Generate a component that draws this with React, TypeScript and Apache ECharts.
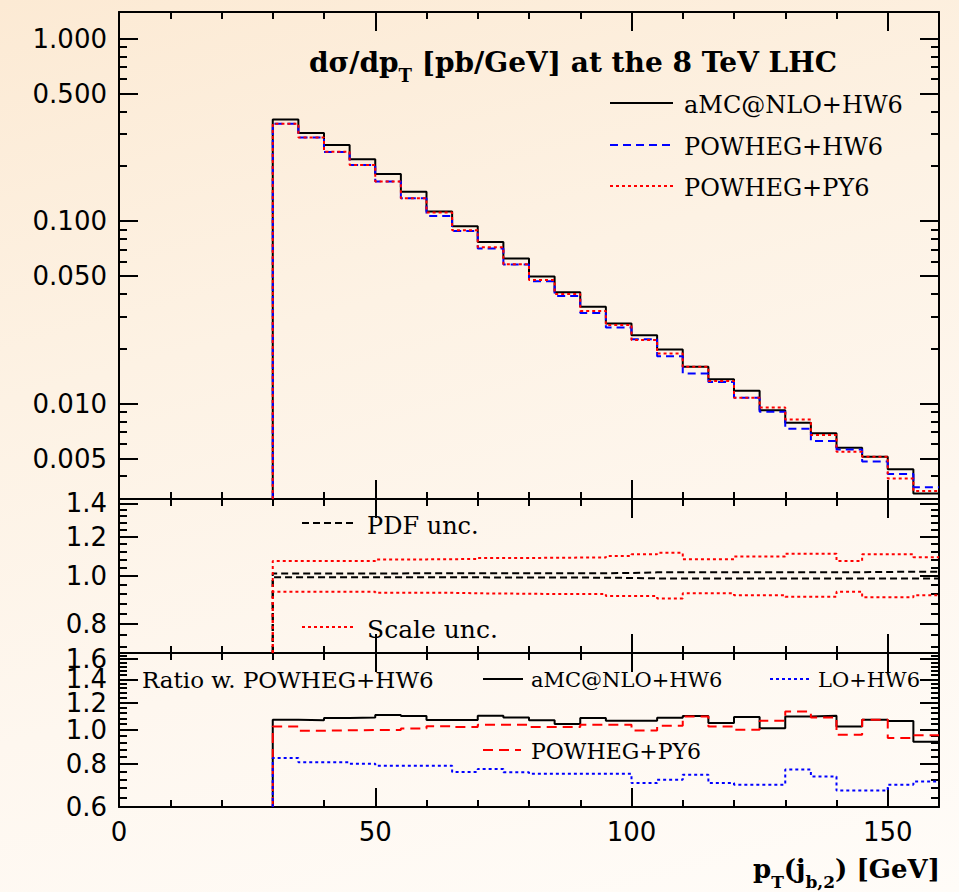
import React, { useEffect, useRef } from "react";
import * as echarts from "echarts";

// ---- data ----
const binEdges = [30, 35, 40, 45, 50, 55, 60, 65, 70, 75, 80, 85, 90, 95, 100, 105, 110, 115, 120, 125, 130, 135, 140, 145, 150, 155, 160];

const aMCNLO_HW6 = [0.361, 0.304, 0.261, 0.218, 0.181, 0.145, 0.113, 0.0938, 0.0769, 0.0624, 0.0497, 0.0407, 0.0339, 0.0275, 0.0237, 0.0198, 0.0159, 0.0136, 0.01175, 0.0092, 0.00785, 0.00687, 0.00573, 0.00512, 0.00436, 0.00322];
const POWHEG_HW6 = [0.342, 0.287, 0.239, 0.203, 0.165, 0.1334, 0.1068, 0.0884, 0.0708, 0.0579, 0.0469, 0.0389, 0.0314, 0.0261, 0.0225, 0.0182, 0.01463, 0.01312, 0.01076, 0.00902, 0.00728, 0.00623, 0.00561, 0.00482, 0.00411, 0.00348];
const POWHEG_PY6 = [0.342, 0.287, 0.24, 0.203, 0.165, 0.1335, 0.1115, 0.0892, 0.0719, 0.058, 0.0475, 0.0399, 0.0322, 0.027, 0.0223, 0.0188, 0.0159, 0.0133, 0.01076, 0.00953, 0.00819, 0.00672, 0.00545, 0.00512, 0.00389, 0.00332];

const pdfUp = [1.012, 1.012, 1.012, 1.012, 1.012, 1.013, 1.013, 1.013, 1.013, 1.013, 1.013, 1.013, 1.013, 1.014, 1.017, 1.017, 1.017, 1.017, 1.017, 1.017, 1.018, 1.018, 1.018, 1.019, 1.02, 1.02];
const pdfDn = [0.994, 0.994, 0.994, 0.994, 0.994, 0.994, 0.994, 0.994, 0.993, 0.993, 0.993, 0.993, 0.992, 0.991, 0.989, 0.989, 0.988, 0.988, 0.988, 0.988, 0.988, 0.988, 0.988, 0.988, 0.989, 0.989];
const scaleUp = [1.072, 1.072, 1.072, 1.072, 1.08, 1.08, 1.081, 1.082, 1.087, 1.087, 1.088, 1.089, 1.09, 1.097, 1.106, 1.114, 1.081, 1.081, 1.094, 1.094, 1.108, 1.108, 1.072, 1.106, 1.106, 1.091];
const scaleDn = [0.93, 0.93, 0.93, 0.93, 0.925, 0.925, 0.925, 0.923, 0.922, 0.921, 0.92, 0.92, 0.92, 0.911, 0.911, 0.9015, 0.923, 0.923, 0.915, 0.915, 0.908, 0.908, 0.93, 0.906, 0.906, 0.915];

const ratioAMC = [1.071, 1.066, 1.083, 1.087, 1.105, 1.097, 1.069, 1.069, 1.0995, 1.087, 1.066, 1.041, 1.083, 1.064, 1.064, 1.085, 1.097, 1.047, 1.09, 1.011, 1.094, 1.099, 1.024, 1.071, 1.062, 0.925];
const ratioPY6 = [1.024, 0.995, 0.998, 1.0, 1.0, 1.01, 1.025, 1.02, 1.036, 1.036, 1.02, 1.02, 1.036, 1.036, 0.997, 1.029, 1.094, 1.024, 1.002, 1.064, 1.131, 1.087, 0.969, 1.071, 0.948, 0.965];
const ratioLO = [0.831, 0.807, 0.807, 0.8, 0.789, 0.789, 0.789, 0.757, 0.772, 0.755, 0.748, 0.748, 0.748, 0.748, 0.703, 0.719, 0.743, 0.703, 0.696, 0.696, 0.769, 0.735, 0.669, 0.669, 0.696, 0.711];

const xMajorTicks = [0, 50, 100, 150];
const xMinorTicks = [10, 20, 30, 40, 60, 70, 80, 90, 110, 120, 130, 140];

const topRange = [0.003, 1.4];
const topMajor = [0.005, 0.01, 0.05, 0.1, 0.5, 1.0];
const topMinor = [0.004, 0.006, 0.007, 0.008, 0.009, 0.02, 0.03, 0.04, 0.06, 0.07, 0.08, 0.09, 0.2, 0.3, 0.4, 0.6, 0.7, 0.8, 0.9];

const midRange = [0.7, 1 / 0.7];
const midMajor = [0.8, 1.0, 1.2, 1.4];
const midMinor = [0.72, 0.76, 0.84, 0.88, 0.92, 0.96, 1.04, 1.08, 1.12, 1.16, 1.24, 1.28, 1.32, 1.36];

const botRange = [0.6, 1 / 0.6];
const botMajor = [0.6, 0.8, 1.0, 1.2, 1.4, 1.6];
const botMinor = [0.64, 0.68, 0.72, 0.76, 0.84, 0.88, 0.92, 0.96, 1.04, 1.08, 1.12, 1.16, 1.24, 1.28, 1.32, 1.36, 1.44, 1.48, 1.52, 1.56, 1.64];

// ---- helpers ----
const L = (v: number) => Math.log10(v);

function stepPoints(values: number[], floor: number) {
  const pts: number[][] = [[binEdges[0], L(floor)]];
  values.forEach((v, i) => {
    pts.push([binEdges[i], L(v)], [binEdges[i + 1], L(v)]);
  });
  return pts;
}

const TICK_FONT = "DejaVu Sans";
const SERIF = "DejaVu Serif";

const panels = [
  { top: 12, height: 487, range: topRange, major: topMajor, minor: topMinor, digits: 3, xLabels: false },
  { top: 499, height: 154, range: midRange, major: midMajor, minor: midMinor, digits: 1, xLabels: false },
  { top: 653, height: 154, range: botRange, major: botMajor, minor: botMinor, digits: 1, xLabels: true },
];

function buildOption() {
  const grid: any[] = [];
  const xAxis: any[] = [];
  const yAxis: any[] = [];
  panels.forEach((p, gi) => {
    grid.push({ left: 119, top: p.top, width: 820, height: p.height });
    (["bottom", "top"] as const).forEach((pos) => {
      [true, false].forEach((isMajor) => {
        xAxis.push({
          type: "value",
          gridIndex: gi,
          position: pos,
          min: 0,
          max: 160,
          axisLine: { show: isMajor, onZero: false, lineStyle: { color: "#000", width: 2 } },
          axisTick: {
            show: true,
            inside: true,
            length: isMajor ? 19 : 7,
            lineStyle: { color: "#000", width: 2 },
            customValues: isMajor ? xMajorTicks : xMinorTicks,
          },
          axisLabel:
            p.xLabels && pos === "bottom" && isMajor
              ? {
                  show: true,
                  customValues: xMajorTicks,
                  fontSize: 26,
                  fontFamily: TICK_FONT,
                  color: "#000",
                  margin: 12,
                  showMinLabel: true,
                  showMaxLabel: true,
                }
              : { show: false },
          splitLine: { show: false },
        });
      });
    });
    (["left", "right"] as const).forEach((pos) => {
      [true, false].forEach((isMajor) => {
        // alternate labels between two overlaid axes so that close neighbours are never auto-hidden
        const labelVals = p.major.filter((_, i) => (i % 2 === 0) === isMajor);
        yAxis.push({
          type: "value",
          gridIndex: gi,
          position: pos,
          min: L(p.range[0]),
          max: L(p.range[1]),
          axisLine: { show: isMajor, onZero: false, lineStyle: { color: "#000", width: 2 } },
          axisTick: {
            show: true,
            inside: true,
            length: isMajor ? 19 : 8,
            lineStyle: { color: "#000", width: 2 },
            customValues: (isMajor ? p.major : p.minor).map(L),
          },
          axisLabel:
            pos === "left" && labelVals.length > 0
              ? {
                  show: true,
                  customValues: labelVals.map(L),
                  formatter: (v: number) => Math.pow(10, v).toFixed(p.digits),
                  fontSize: 26,
                  fontFamily: TICK_FONT,
                  color: "#000",
                  margin: 12,
                  showMinLabel: true,
                  showMaxLabel: true,
                  hideOverlap: false,
                }
              : { show: false },
          splitLine: { show: false },
        });
      });
    });
  });

  const mk = (name: string, gi: number, values: number[], floor: number, color: string, type: any) => ({
    type: "line",
    name,
    xAxisIndex: gi * 4,
    yAxisIndex: gi * 4,
    data: stepPoints(values, floor),
    symbol: "none",
    showSymbol: false,
    silent: true,
    lineStyle: { color, width: 2, type, cap: "butt" },
  });

  const series = [
    mk("aMC@NLO+HW6", 0, aMCNLO_HW6, topRange[0], "#000", "solid"),
    mk("POWHEG+HW6", 0, POWHEG_HW6, topRange[0], "#0000ff", [8, 5]),
    mk("POWHEG+PY6", 0, POWHEG_PY6, topRange[0], "#ff0000", [3, 3]),
    mk("PDF unc. up", 1, pdfUp, midRange[0], "#000", [7, 4]),
    mk("PDF unc. down", 1, pdfDn, midRange[0], "#000", [7, 4]),
    mk("Scale unc. up", 1, scaleUp, midRange[0], "#ff0000", [3, 3]),
    mk("Scale unc. down", 1, scaleDn, midRange[0], "#ff0000", [3, 3]),
    mk("aMC@NLO+HW6 ratio", 2, ratioAMC, botRange[0], "#000", "solid"),
    mk("POWHEG+PY6 ratio", 2, ratioPY6, botRange[0], "#ff0000", [10, 6]),
    mk("LO+HW6 ratio", 2, ratioLO, botRange[0], "#0000ff", [3, 3]),
  ];

  const txt = (x: number, y: number, text: string, size: number) => ({
    type: "text",
    x,
    y,
    silent: true,
    style: {
      text,
      fontSize: size,
      fontFamily: SERIF,
      fill: "#000",
      align: "left",
      verticalAlign: "middle",
      textAlign: "left",
      textVerticalAlign: "middle",
    },
  });
  const seg = (x1: number, x2: number, y: number, color: string, dash: any) => ({
    type: "line",
    silent: true,
    shape: { x1, y1: y, x2, y2: y },
    style: { stroke: color, lineWidth: 2, lineDash: dash },
  });

  const titleMain = { fontSize: 28, fontWeight: "bold", fontFamily: SERIF, lineHeight: 33, verticalAlign: "top", color: "#000" };
  const titleSub = { fontSize: 18, fontWeight: "bold", fontFamily: SERIF, lineHeight: 36, verticalAlign: "bottom", color: "#000" };
  const axMain = { fontSize: 26, fontWeight: "bold", fontFamily: SERIF, lineHeight: 31, verticalAlign: "top", color: "#000" };
  const axSub = { fontSize: 17, fontWeight: "bold", fontFamily: SERIF, lineHeight: 34, verticalAlign: "bottom", color: "#000" };

  const graphic = [
    {
      type: "text",
      x: 573,
      y: 48,
      silent: true,
      style: {
        text: "{m|dσ/dp}{s|T}{m| [pb/GeV] at the 8 TeV LHC}",
        rich: { m: titleMain, s: titleSub },
        align: "center",
        textAlign: "center",
        verticalAlign: "top",
        textVerticalAlign: "top",
      },
    },
    seg(610, 673, 103, "#000", null),
    txt(684, 105, "aMC@NLO+HW6", 24),
    seg(610, 673, 145, "#0000ff", [8, 5]),
    txt(684, 147, "POWHEG+HW6", 24),
    seg(610, 673, 186, "#ff0000", [3, 3]),
    txt(684, 188, "POWHEG+PY6", 24),

    seg(302, 354, 523, "#000", [7, 4]),
    txt(367, 526, "PDF unc.", 24),
    seg(302, 354, 627, "#ff0000", [3, 3]),
    txt(367, 629, "Scale unc.", 25),

    txt(142, 680, "Ratio w. POWHEG+HW6", 23),
    seg(483, 523, 679, "#000", null),
    txt(531, 680, "aMC@NLO+HW6", 21),
    seg(770, 810, 679, "#0000ff", [3, 3]),
    txt(818, 680, "LO+HW6", 21),
    seg(483, 521, 750, "#ff0000", [10, 6]),
    txt(531, 751, "POWHEG+PY6", 22),

    {
      type: "text",
      x: 940,
      y: 856,
      silent: true,
      style: {
        text: "{m|p}{s|T}{m|(j}{s|b,2}{m|) [GeV]}",
        rich: { m: axMain, s: axSub },
        align: "right",
        textAlign: "right",
        verticalAlign: "top",
        textVerticalAlign: "top",
      },
    },
  ];

  return { animation: false, backgroundColor: "transparent", grid, xAxis, yAxis, series, graphic };
}

export default function App() {
  const ref = useRef<HTMLDivElement>(null);
  useEffect(() => {
    if (!ref.current) return;
    const chart = echarts.init(ref.current, undefined, { renderer: "svg" });
    chart.setOption(buildOption() as any);
    return () => chart.dispose();
  }, []);
  return (
    <div
      style={{
        position: "fixed",
        left: 0,
        top: 0,
        width: 959,
        height: 892,
        background: "linear-gradient(165deg, #fcead4 0%, #fdf2e4 35%, #fef7ef 65%, #fffcf8 100%)",
      }}
    >
      <div ref={ref} style={{ width: 959, height: 892 }} />
    </div>
  );
}
